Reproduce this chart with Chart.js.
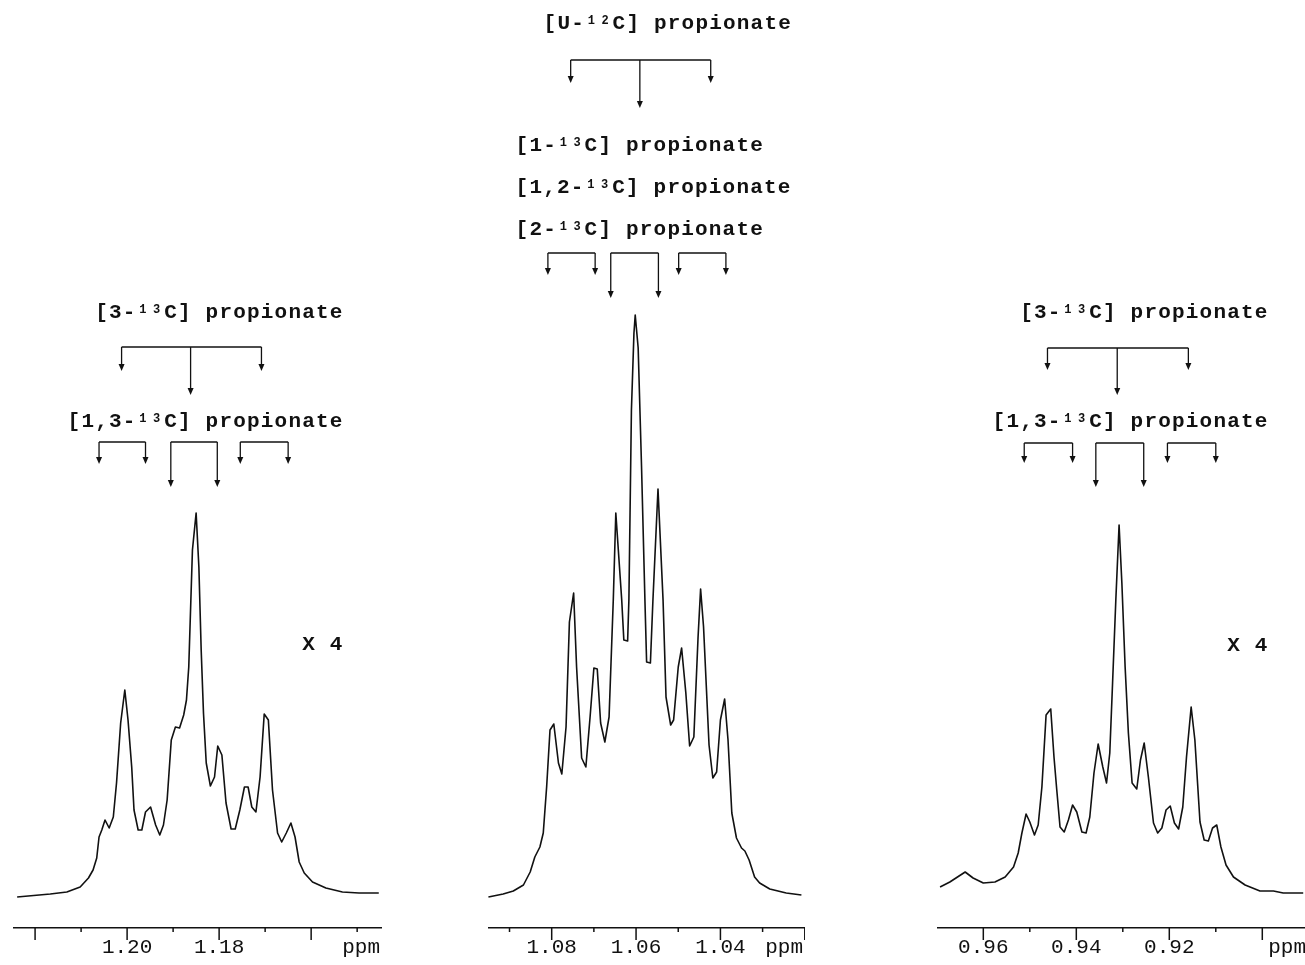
<!DOCTYPE html>
<html>
<head>
<meta charset="utf-8">
<script src="https://cdn.jsdelivr.net/npm/chart.js@4.4.1/dist/chart.umd.min.js"></script>
<style>
  html, body { margin: 0; padding: 0; background: #fff; overflow: hidden; width: 1305px; height: 965px; }
  canvas { position: absolute; top: 0; }
</style>
</head>
<body>
<canvas id="left" width="369" height="965" style="left:13px"></canvas>
<canvas id="middle" width="317" height="965" style="left:488px"></canvas>
<canvas id="right" width="371" height="965" style="left:937px"></canvas>
<script>

// panel izquierdo (x 4)
const leftPpm = [1.2239, 1.2167, 1.2131, 1.2102, 1.2084, 1.2074, 1.2066, 1.2061, 1.2055, 1.2048,
  1.2039, 1.2030, 1.2023, 1.2014, 1.2005, 1.1998, 1.1990, 1.1985, 1.1976, 1.1968,
  1.1960, 1.1949, 1.1938, 1.1929, 1.1921, 1.1913, 1.1904, 1.1895, 1.1886, 1.1877,
  1.1871, 1.1866, 1.1858, 1.1850, 1.1844, 1.1839, 1.1834, 1.1828, 1.1819, 1.1810,
  1.1803, 1.1794, 1.1785, 1.1774, 1.1765, 1.1755, 1.1745, 1.1737, 1.1729, 1.1720,
  1.1711, 1.1702, 1.1693, 1.1684, 1.1673, 1.1664, 1.1654, 1.1644, 1.1635, 1.1626,
  1.1615, 1.1597, 1.1568, 1.1532, 1.1496, 1.1453];
const leftIntensity = [0, 3, 5, 10, 19, 27, 39, 60, 67, 77,
  69, 80, 114, 174, 207, 177, 130, 87, 67, 67,
  85, 90, 72, 62, 72, 97, 157, 170, 169, 182,
  197, 230, 347, 384, 330, 247, 184, 134, 111, 120,
  151, 142, 94, 68, 68, 87, 110, 110, 90, 85,
  120, 183, 177, 107, 64, 55, 64, 74, 60, 35,
  24, 15, 9, 5, 4, 4];

// panel central
const middlePpm = [1.0950, 1.0915, 1.0891, 1.0867, 1.0851, 1.0840, 1.0828, 1.0820, 1.0812, 1.0804,
  1.0795, 1.0784, 1.0776, 1.0766, 1.0758, 1.0748, 1.0741, 1.0729, 1.0719, 1.0709,
  1.0700, 1.0692, 1.0684, 1.0674, 1.0664, 1.0654, 1.0648, 1.0634, 1.0629, 1.0620,
  1.0617, 1.0611, 1.0605, 1.0602, 1.0595, 1.0587, 1.0579, 1.0575, 1.0566, 1.0560,
  1.0548, 1.0536, 1.0529, 1.0518, 1.0511, 1.0500, 1.0492, 1.0482, 1.0473, 1.0463,
  1.0453, 1.0447, 1.0440, 1.0427, 1.0418, 1.0409, 1.0400, 1.0390, 1.0382, 1.0373,
  1.0362, 1.0350, 1.0342, 1.0332, 1.0319, 1.0307, 1.0283, 1.0244, 1.0208];
const middleIntensity = [0, 3, 6, 12, 25, 40, 50, 64, 110, 167,
  173, 134, 123, 170, 275, 304, 230, 139, 130, 180,
  229, 228, 174, 155, 180, 297, 384, 297, 257, 256,
  297, 487, 564, 582, 549, 430, 297, 235, 234, 297,
  408, 297, 200, 172, 177, 230, 249, 204, 151, 160,
  260, 308, 270, 152, 119, 125, 177, 198, 157, 84,
  59, 49, 46, 37, 20, 14, 8, 4, 2];

// panel derecho (x 4)
const rightPpm = [0.9693, 0.9672, 0.9639, 0.9622, 0.9600, 0.9575, 0.9553, 0.9535, 0.9525, 0.9517,
  0.9508, 0.9500, 0.9490, 0.9482, 0.9474, 0.9465, 0.9455, 0.9448, 0.9442, 0.9435,
  0.9426, 0.9417, 0.9408, 0.9399, 0.9388, 0.9379, 0.9371, 0.9362, 0.9353, 0.9343,
  0.9335, 0.9328, 0.9322, 0.9315, 0.9308, 0.9302, 0.9295, 0.9288, 0.9280, 0.9270,
  0.9262, 0.9254, 0.9245, 0.9234, 0.9225, 0.9216, 0.9207, 0.9198, 0.9189, 0.9180,
  0.9171, 0.9163, 0.9153, 0.9145, 0.9134, 0.9125, 0.9116, 0.9107, 0.9098, 0.9089,
  0.9078, 0.9062, 0.9037, 0.9005, 0.8976, 0.8955, 0.8912];
const rightIntensity = [10, 15, 25, 19, 14, 15, 20, 30, 44, 64,
  83, 75, 62, 72, 110, 182, 188, 140, 107, 70,
  65, 77, 92, 85, 65, 64, 80, 124, 153, 130,
  114, 144, 214, 297, 372, 314, 230, 164, 114, 108,
  137, 154, 120, 74, 64, 69, 87, 91, 74, 68,
  90, 140, 190, 157, 75, 57, 56, 69, 72, 50,
  32, 20, 12, 6, 6, 4, 4];

// marcas de los ejes (ppm) y etiquetas visibles
const leftTicks = [1.22, 1.21, 1.20, 1.19, 1.18, 1.17, 1.16, 1.15];
const leftTickLabels = ['1.20', '1.18'];
const middleTicks = [1.09, 1.08, 1.07, 1.06, 1.05, 1.04, 1.03, 1.02];
const middleTickLabels = ['1.08', '1.06', '1.04'];
const rightTicks = [0.96, 0.95, 0.94, 0.93, 0.92, 0.91, 0.90];
const rightTickLabels = ['0.96', '0.94', '0.92'];

// posiciones de las lineas de los multipletes (ppm)
const leftTriplet = [1.2012, 1.1862, 1.1708];
const leftPairs = [[1.2061, 1.1960], [1.1905, 1.1804], [1.1754, 1.1650]];
const middleTriplet = [1.0755, 1.0591, 1.0423];
const middlePairs = [[1.0809, 1.0697], [1.0660, 1.0547], [1.0499, 1.0387]];
const rightTriplet = [0.9462, 0.9312, 0.9159];
const rightPairs = [[0.9512, 0.9408], [0.9358, 0.9255], [0.9204, 0.9100]];

// textos: [antes, superindice, despues]
const label3C = ['[3-', '13', 'C] propionate'];
const label13C = ['[1,3-', '13', 'C] propionate'];
const labelU12C = ['[U-', '12', 'C] propionate'];
const label1C = ['[1-', '13', 'C] propionate'];
const label12C = ['[1,2-', '13', 'C] propionate'];
const label2C = ['[2-', '13', 'C] propionate'];
const labelScale = ['X 4'];

// ESTILO
const INK = '#111';
const CELL = 13.8; // ancho de cada caracter (fuente monoespaciada)
const LABEL_FONT = 'bold 21px "Liberation Mono"';
const SUP_FONT = 'bold 12px "Liberation Mono"';

// dibuja un texto caracter a caracter, con el superindice elevado
const drawLabel = (ctx, parts, x, baseline, align) => {
  const cells = parts.join('').length;
  let cx = align === 'right' ? x - cells * CELL : x;
  ctx.fillStyle = INK;
  ctx.textAlign = 'center';
  ctx.textBaseline = 'alphabetic';
  parts.forEach((part, i) => {
    ctx.font = i === 1 ? SUP_FONT : LABEL_FONT;
    const y = i === 1 ? baseline - 5 : baseline;
    for (const ch of part) {
      ctx.fillText(ch, cx + CELL / 2, y);
      cx += CELL;
    }
  });
};

// flecha vertical hacia abajo
const drawArrow = (ctx, x, y0, y1) => {
  ctx.beginPath();
  ctx.moveTo(x, y0);
  ctx.lineTo(x, y1 - 6);
  ctx.stroke();
  ctx.beginPath();
  ctx.moveTo(x - 3, y1 - 7);
  ctx.lineTo(x + 3, y1 - 7);
  ctx.lineTo(x, y1);
  ctx.closePath();
  ctx.fill();
};

const drawBracket = (ctx, xs, level, drops) => {
  ctx.beginPath();
  ctx.moveTo(xs[0], level);
  ctx.lineTo(xs[xs.length - 1], level);
  ctx.stroke();
  xs.forEach((x, i) => drawArrow(ctx, x, level, drops[i]));
};

// plugin: marcas del eje, "ppm", multipletes y textos
const notesPlugin = (notes) => ({
  id: 'notes',
  afterDraw: (chart) => {
    const ctx = chart.ctx;
    const sx = chart.scales.x;
    const area = chart.chartArea;
    ctx.save();
    ctx.strokeStyle = INK;
    ctx.fillStyle = INK;

    // marcas mayores (cada 0.02) y menores
    ctx.lineWidth = 1.5;
    sx.ticks.forEach((t) => {
      const px = sx.getPixelForValue(t.value);
      const major = Math.round(t.value * 100) % 2 === 0;
      ctx.beginPath();
      ctx.moveTo(px, sx.top);
      ctx.lineTo(px, sx.top + (major ? 12 : 4));
      ctx.stroke();
    });
    ctx.font = '21px "Liberation Mono"';
    ctx.textAlign = 'right';
    ctx.textBaseline = 'middle';
    ctx.fillText('ppm', area.right - 2, sx.top + 7 + 12.6);

    // multipletes
    ctx.lineWidth = 1.3;
    notes.brackets.forEach((b) => {
      if (b.kind === 'triplet') {
        const xs = b.ppm.map((v) => sx.getPixelForValue(v));
        drawBracket(ctx, xs, b.level, [b.outer, b.inner, b.outer]);
      } else {
        b.ppm.forEach((pair, i) => {
          const xs = pair.map((v) => sx.getPixelForValue(v));
          const drop = i === 1 ? b.inner : b.outer;
          drawBracket(ctx, xs, b.level, [drop, drop]);
        });
      }
    });

    // textos
    notes.labels.forEach((l) => {
      const x = l.align === 'right' ? area.right - l.dx : area.left + l.dx;
      drawLabel(ctx, l.parts, x, l.y, l.align);
    });
    ctx.restore();
  }
});

const makeChart = (id, ppm, intensity, xMin, xMax, ticks, tickLabels, notes) => {
  return new Chart(document.getElementById(id), {
    type: 'line',
    data: {
      datasets: [{
        data: ppm.map((x, i) => ({ x: x, y: intensity[i] })),
        borderColor: INK,
        borderWidth: 1.6,
        borderJoinStyle: 'round',
        pointRadius: 0,
        tension: 0,
        fill: false
      }]
    },
    options: {
      responsive: false,
      animation: false,
      devicePixelRatio: 1,
      layout: { padding: 0 },
      plugins: { legend: { display: false }, tooltip: { enabled: false } },
      scales: {
        x: {
          type: 'linear',
          reverse: true,
          min: xMin,
          max: xMax,
          afterBuildTicks: (scale) => { scale.ticks = ticks.map((v) => ({ value: v })); },
          afterFit: (scale) => {
            scale.height = 37;
            // el eje ocupa todo el ancho del lienzo
            scale.paddingLeft = 0;
            scale.paddingRight = 0;
          },
          grid: { display: false, drawTicks: false },
          border: { display: true, color: INK, width: 1.5 },
          ticks: {
            padding: 7,
            color: INK,
            autoSkip: false,
            maxRotation: 0,
            font: { family: 'Liberation Mono', size: 21 },
            callback: (v) => {
              const s = Number(v).toFixed(2);
              return tickLabels.includes(s) ? s : '';
            }
          }
        },
        y: { display: false, min: -31, max: 897 }
      }
    },
    plugins: [notesPlugin(notes)]
  });
};

makeChart('left', leftPpm, leftIntensity, 1.1446, 1.2248, leftTicks, leftTickLabels, {
  brackets: [
    { kind: 'triplet', ppm: leftTriplet, level: 347, outer: 371, inner: 395 },
    { kind: 'pairs', ppm: leftPairs, level: 442, outer: 464, inner: 487 }
  ],
  labels: [
    { parts: label3C, align: 'right', dx: 39, y: 318 },
    { parts: label13C, align: 'right', dx: 39, y: 427 },
    { parts: labelScale, align: 'right', dx: 39, y: 650 }
  ]
});

makeChart('middle', middlePpm, middleIntensity, 1.01995, 1.0951, middleTicks, middleTickLabels, {
  brackets: [
    { kind: 'triplet', ppm: middleTriplet, level: 60, outer: 83, inner: 108 },
    { kind: 'pairs', ppm: middlePairs, level: 253, outer: 275, inner: 298 }
  ],
  labels: [
    { parts: labelU12C, align: 'left', dx: 55, y: 29 },
    { parts: label1C, align: 'left', dx: 27, y: 151 },
    { parts: label12C, align: 'left', dx: 27, y: 193 },
    { parts: label2C, align: 'left', dx: 27, y: 235 }
  ]
});

makeChart('right', rightPpm, rightIntensity, 0.89017, 0.96996, rightTicks, rightTickLabels, {
  brackets: [
    { kind: 'triplet', ppm: rightTriplet, level: 348, outer: 370, inner: 395 },
    { kind: 'pairs', ppm: rightPairs, level: 443, outer: 463, inner: 487 }
  ],
  labels: [
    { parts: label3C, align: 'right', dx: 40, y: 318 },
    { parts: label13C, align: 'right', dx: 40, y: 427 },
    { parts: labelScale, align: 'right', dx: 40, y: 651 }
  ]
});
</script>
</body>
</html>
